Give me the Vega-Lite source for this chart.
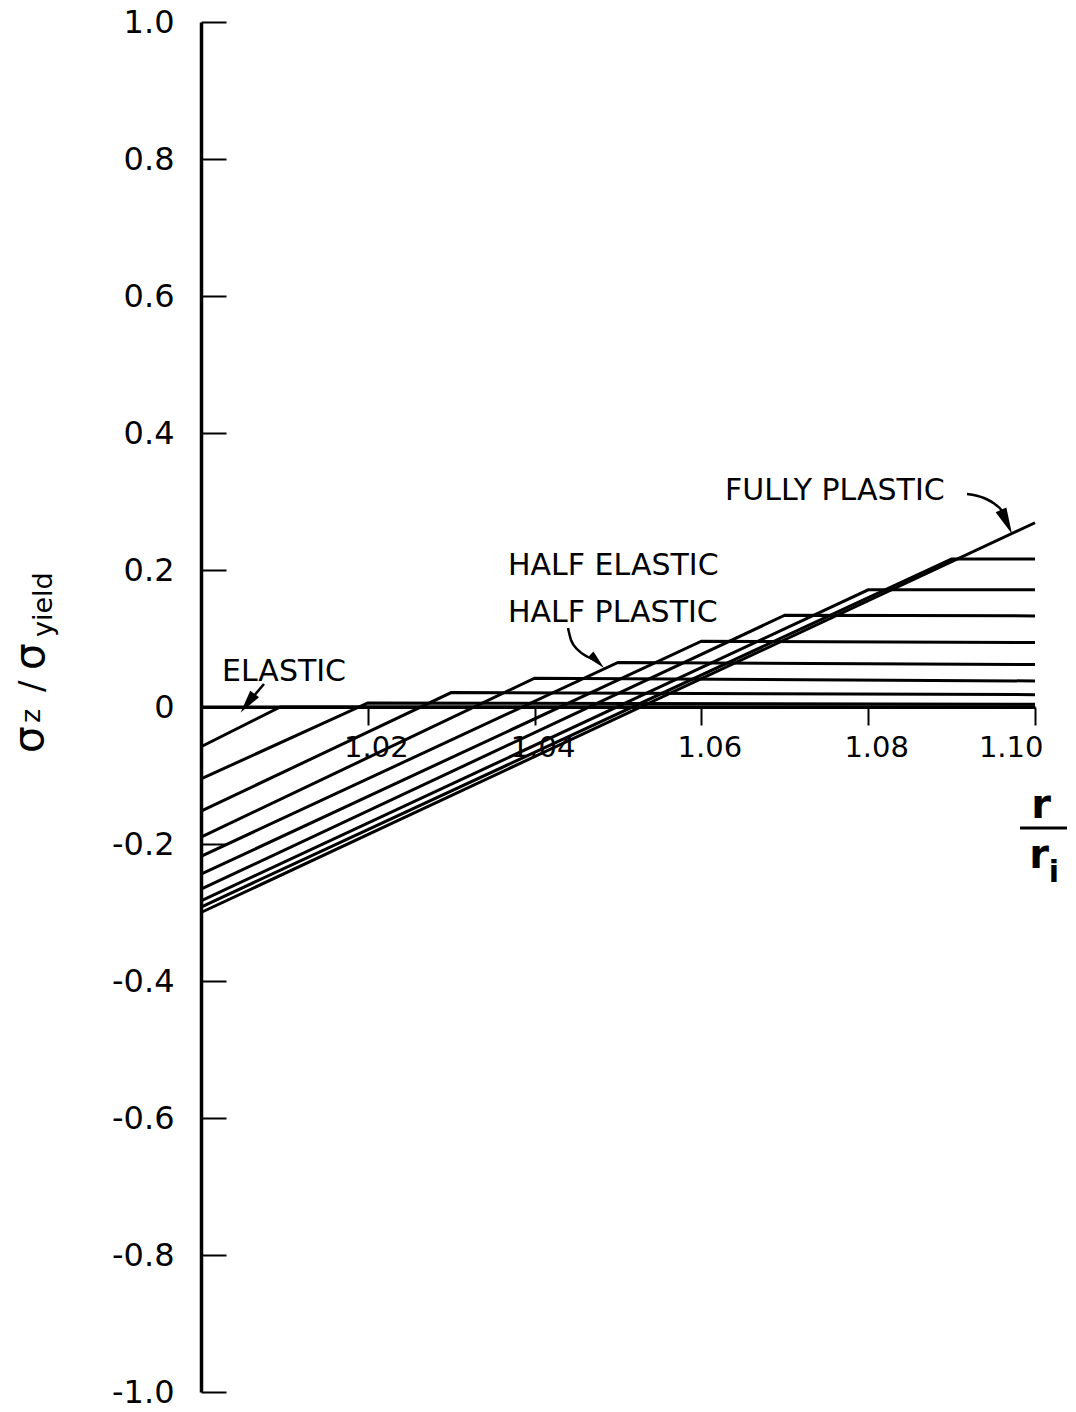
{
  "$schema": "https://vega.github.io/schema/vega-lite/v6.json",
  "width": 834,
  "height": 1370,
  "autosize": {"type": "none"},
  "padding": {"left": 201, "top": 22, "right": 41, "bottom": 20},
  "background": "white",
  "config": {"view": {"stroke": null}, "font": "DejaVu Sans", "text": {"font": "DejaVu Sans", "color": "black"}},
  "datasets": {
    "curves": [
      {"c": "elastic", "x": 1.00, "y": 0.0}, {"c": "elastic", "x": 1.10, "y": 0.0},
      {"c": "p101", "x": 1.00, "y": -0.058}, {"c": "p101", "x": 1.0095, "y": 0.0}, {"c": "p101", "x": 1.10, "y": 0.0},
      {"c": "p102", "x": 1.00, "y": -0.105}, {"c": "p102", "x": 1.02, "y": 0.006}, {"c": "p102", "x": 1.10, "y": 0.004},
      {"c": "p103", "x": 1.00, "y": -0.152}, {"c": "p103", "x": 1.03, "y": 0.021}, {"c": "p103", "x": 1.10, "y": 0.018},
      {"c": "p104", "x": 1.00, "y": -0.19}, {"c": "p104", "x": 1.04, "y": 0.042}, {"c": "p104", "x": 1.10, "y": 0.038},
      {"c": "p105", "x": 1.00, "y": -0.218}, {"c": "p105", "x": 1.05, "y": 0.065}, {"c": "p105", "x": 1.10, "y": 0.062},
      {"c": "p106", "x": 1.00, "y": -0.244}, {"c": "p106", "x": 1.06, "y": 0.096}, {"c": "p106", "x": 1.10, "y": 0.094},
      {"c": "p107", "x": 1.00, "y": -0.266}, {"c": "p107", "x": 1.07, "y": 0.134}, {"c": "p107", "x": 1.10, "y": 0.133},
      {"c": "p108", "x": 1.00, "y": -0.283}, {"c": "p108", "x": 1.08, "y": 0.171}, {"c": "p108", "x": 1.10, "y": 0.171},
      {"c": "p109", "x": 1.00, "y": -0.292}, {"c": "p109", "x": 1.09, "y": 0.216}, {"c": "p109", "x": 1.10, "y": 0.216},
      {"c": "fully", "x": 1.00, "y": -0.30}, {"c": "fully", "x": 1.10, "y": 0.269}
    ],
    "shafts": [
      {"a": "elastic", "x": 1.005636, "y": 0.00613}, {"a": "elastic", "x": 1.007554, "y": 0.03358},
      {"a": "half", "x": 1.044005, "y": 0.11533}, {"a": "half", "x": 1.044365, "y": 0.09781}, {"a": "half", "x": 1.045204, "y": 0.08321}, {"a": "half", "x": 1.046403, "y": 0.07299}, {"a": "half", "x": 1.04747, "y": 0.0673},
      {"a": "fully", "x": 1.091847, "y": 0.31095}, {"a": "fully", "x": 1.093885, "y": 0.30511}, {"a": "fully", "x": 1.095324, "y": 0.29489}, {"a": "fully", "x": 1.096043, "y": 0.28613}, {"a": "fully", "x": 1.096547, "y": 0.27109}
    ],
    "headElastic": [{"x": 1.005636, "y": 0.00613}],
    "headHalf": [{"x": 1.04747, "y": 0.0673}],
    "headFully": [{"x": 1.096547, "y": 0.27109}],
    "labels": [
      {"x": 1.002518, "y": 0.03796, "t": "ELASTIC"},
      {"x": 1.036811, "y": 0.1927, "t": "HALF ELASTIC"},
      {"x": 1.036811, "y": 0.12409, "t": "HALF PLASTIC"},
      {"x": 1.06283, "y": 0.30219, "t": "FULLY PLASTIC"}
    ],
    "ySigma": [
      {"x": 0.981055, "y": -0.06715, "t": "σ"},
      {"x": 0.981175, "y": 0.05401, "t": "σ"}
    ],
    "ySub": [
      {"x": 0.980695, "y": -0.02336, "t": "z"},
      {"x": 0.982134, "y": 0.10219, "t": "yield"}
    ],
    "ySlash": [{"x": 0.981055, "y": 0.0219, "t": "/"}],
    "xR": [
      {"x": 1.100719, "y": -0.16204, "t": "r"},
      {"x": 1.10048, "y": -0.23504, "t": "r"}
    ],
    "xI": [{"x": 1.102278, "y": -0.25547, "t": "i"}],
    "xBar": [{"x": 1.098201, "x2": 1.103837, "y": -0.17664}]
  },
  "encoding": {
    "x": {
      "field": "x", "type": "quantitative",
      "scale": {"domain": [1.0, 1.1], "nice": false, "zero": false},
      "axis": {
        "values": [1.02, 1.04, 1.06, 1.08, 1.10], "format": ".2f", "offset": -685,
        "title": null, "grid": false,
        "domainColor": "black", "domainWidth": 3,
        "tickColor": "black", "tickWidth": 2, "tickSize": 18,
        "labelColor": "black", "labelFont": "DejaVu Sans", "labelFontSize": 29,
        "labelPadding": 8, "labelOffset": 8, "labelBaseline": "top"
      }
    },
    "y": {
      "field": "y", "type": "quantitative",
      "scale": {"domain": [-1, 1], "nice": false, "zero": false},
      "axis": {
        "values": [-1, -0.8, -0.6, -0.4, -0.2, 0, 0.2, 0.4, 0.6, 0.8, 1],
        "labelExpr": "datum.value == 0 ? '0' : (datum.value < 0 ? '-' : '') + format(abs(datum.value), '.1f')",
        "title": null, "grid": false,
        "domainColor": "black", "domainWidth": 3.5,
        "tickColor": "black", "tickWidth": 2, "tickSize": -25,
        "labelColor": "black", "labelFont": "DejaVu Sans", "labelFontSize": 32,
        "labelPadding": 52
      }
    }
  },
  "layer": [
    {
      "data": {"name": "curves"},
      "mark": {"type": "line", "color": "black", "strokeWidth": 3},
      "encoding": {"detail": {"field": "c", "type": "nominal"}}
    },
    {
      "data": {"name": "shafts"},
      "mark": {"type": "line", "color": "black", "strokeWidth": 2.5, "interpolate": "monotone"},
      "encoding": {"detail": {"field": "a", "type": "nominal"}}
    },
    {
      "data": {"name": "headElastic"},
      "mark": {"type": "point", "shape": "M0,-1L0.45,0.9L-0.45,0.9Z", "size": 600, "angle": 217, "filled": true, "color": "black", "opacity": 1}
    },
    {
      "data": {"name": "headHalf"},
      "mark": {"type": "point", "shape": "M0,-1L0.42,0.9L-0.42,0.9Z", "size": 400, "angle": 135, "filled": true, "color": "black", "opacity": 1}
    },
    {
      "data": {"name": "headFully"},
      "mark": {"type": "point", "shape": "M0,-1L0.42,0.9L-0.42,0.9Z", "size": 784, "angle": 155.5, "filled": true, "color": "black", "opacity": 1}
    },
    {
      "data": {"name": "labels"},
      "mark": {"type": "text", "align": "left", "baseline": "alphabetic", "fontSize": 30, "color": "black"},
      "encoding": {"text": {"field": "t"}}
    },
    {
      "data": {"name": "ySigma"},
      "mark": {"type": "text", "align": "left", "baseline": "alphabetic", "fontSize": 42, "angle": 270, "color": "black"},
      "encoding": {"text": {"field": "t"}}
    },
    {
      "data": {"name": "ySub"},
      "mark": {"type": "text", "align": "left", "baseline": "alphabetic", "fontSize": 27, "angle": 270, "color": "black"},
      "encoding": {"text": {"field": "t"}}
    },
    {
      "data": {"name": "ySlash"},
      "mark": {"type": "text", "align": "left", "baseline": "alphabetic", "fontSize": 34, "angle": 270, "color": "black"},
      "encoding": {"text": {"field": "t"}}
    },
    {
      "data": {"name": "xR"},
      "mark": {"type": "text", "align": "center", "baseline": "alphabetic", "fontSize": 40, "fontWeight": "bold", "color": "black"},
      "encoding": {"text": {"field": "t"}}
    },
    {
      "data": {"name": "xI"},
      "mark": {"type": "text", "align": "center", "baseline": "alphabetic", "fontSize": 30, "fontWeight": "bold", "color": "black"},
      "encoding": {"text": {"field": "t"}}
    },
    {
      "data": {"name": "xBar"},
      "mark": {"type": "rule", "color": "black", "strokeWidth": 3},
      "encoding": {"x2": {"field": "x2"}}
    }
  ]
}
